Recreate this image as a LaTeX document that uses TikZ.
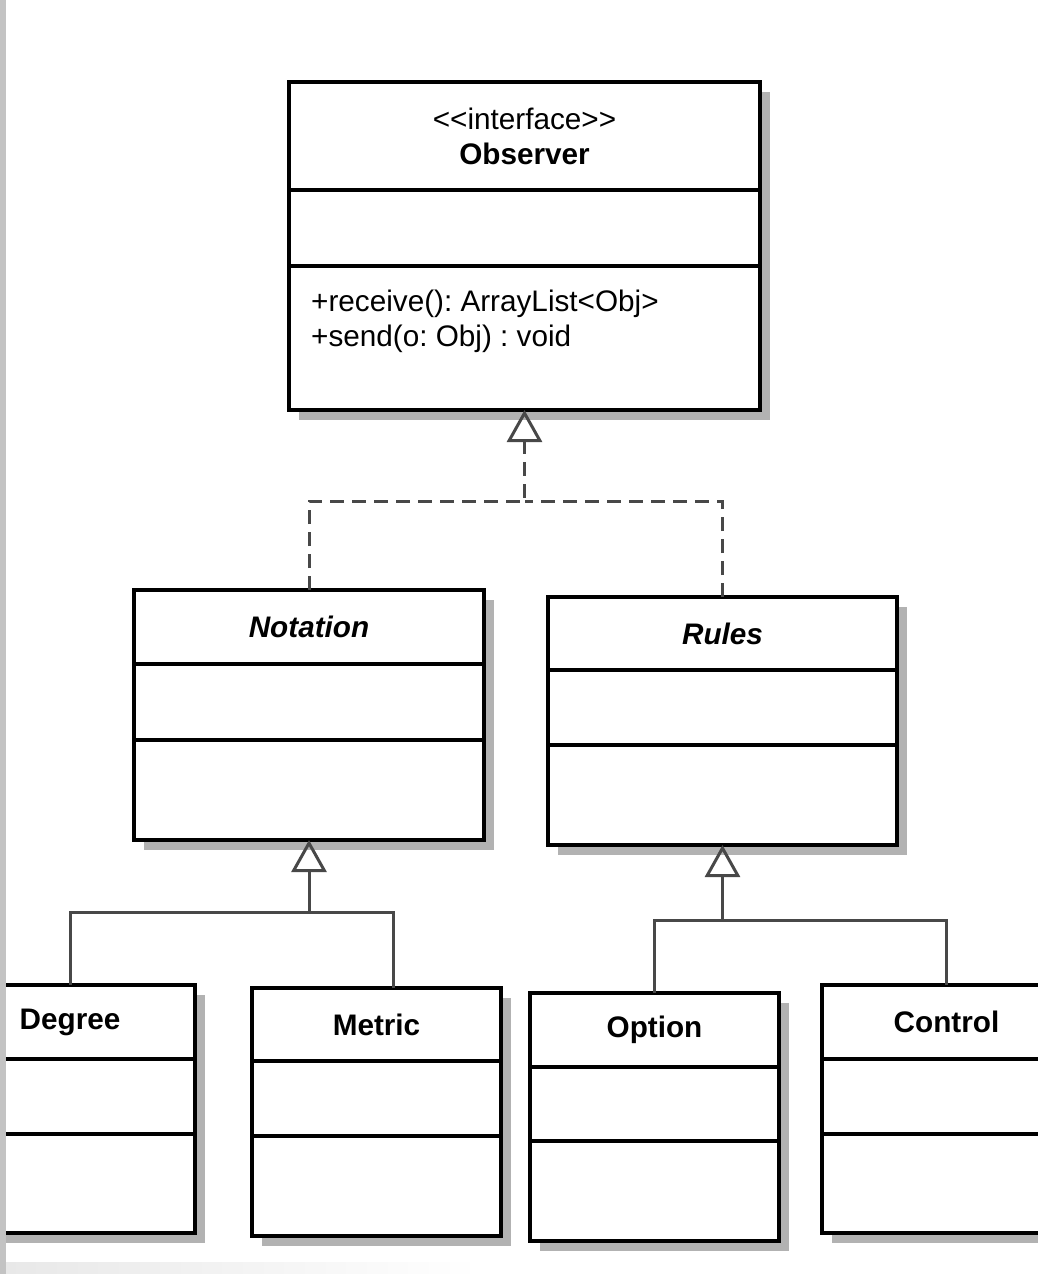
\documentclass[tikz,border=0pt]{standalone}
\usepackage{fontspec}
\setmainfont{Liberation Sans}
\usetikzlibrary{arrows.meta, positioning, shadows}
\definecolor{shadowgray}{RGB}{178, 178, 178}
\definecolor{linkgray}{RGB}{72, 72, 72}
\definecolor{framegray}{RGB}{195, 195, 195}
\frenchspacing

\begin{document}
\begin{tikzpicture}[x=1pt, y=-1pt,
        font=\fontsize{29.7pt}{35pt}\selectfont,
        part/.style={rectangle, draw=black, fill=white, line width=4pt, inner sep=0pt, outer sep=0pt, minimum width=#1,
            drop shadow={shadow xshift=10pt, shadow yshift=-10pt, fill=shadowgray, opacity=1}},
        part/.default=249pt,
        ops/.style={anchor=north west, inner sep=0pt, align=left},
        link/.style={draw=linkgray, line width=3pt},
        realize/.style={link, dash pattern=on 14pt off 8pt},
        hollow/.style={-{Triangle[open, length=32pt, width=35pt, line width=3pt]}}
    ]
        \useasboundingbox (0,0) rectangle (1038,1274);
        \clip (0,0) rectangle (1038,1274);

        % interface
        \node[part=471pt, minimum height=108pt, align=center] (obs) at (524.5,136) {{<}{<}interface{>}{>}\\\textbf{Observer}};
        \node[part=471pt, minimum height=76pt, below=0pt of obs] (obsB) {};
        \node[part=471pt, minimum height=144pt, below=0pt of obsB] (obsC) {};
        \node[ops] (obsops) at ([xshift=22pt, yshift=-24pt]obsC.north west) {+receive(): ArrayList<Obj>\\+send(o: Obj) : void};

        % abstract classes
        \node[part=350pt, minimum height=74pt] (nota) at (309,627) {\textbf{\textit{Notation}}};
        \node[part=350pt, minimum height=76pt, below=0pt of nota] (notaB) {};
        \node[part=350pt, minimum height=100pt, below=0pt of notaB] (notaC) {};

        \node[part=349pt, minimum height=73pt] (rules) at (722.5,633.5) {\textbf{\textit{Rules}}};
        \node[part=349pt, minimum height=75pt, below=0pt of rules] (rulesB) {};
        \node[part=349pt, minimum height=100pt, below=0pt of rulesB] (rulesC) {};

        % concrete classes
        \node[part, minimum height=74pt] (deg) at (70,1022) {\textbf{Degree}};
        \node[part, minimum height=75pt, below=0pt of deg] (degB) {};
        \node[part, minimum height=99pt, below=0pt of degB] (degC) {};

        \node[part, minimum height=73pt] (met) at (376.5,1024.5) {\textbf{Metric}};
        \node[part, minimum height=75pt, below=0pt of met] (metB) {};
        \node[part, minimum height=100pt, below=0pt of metB] (metC) {};

        \node[part, minimum height=74pt] (opt) at (654.5,1030) {\textbf{Option}};
        \node[part, minimum height=74pt, below=0pt of opt] (optB) {};
        \node[part, minimum height=100pt, below=0pt of optB] (optC) {};

        \node[part, minimum height=74pt] (ctrl) at (946.5,1022) {\textbf{Control}};
        \node[part, minimum height=75pt, below=0pt of ctrl] (ctrlB) {};
        \node[part, minimum height=99pt, below=0pt of ctrlB] (ctrlC) {};

        % connectors
        \coordinate (obsjoin) at (524.5,501);
        \coordinate (notajoin) at (309,912);
        \coordinate (rulesjoin) at (722.5,920);

        \draw[realize, hollow] (nota.north) |- (obsjoin) -- (obsC.south);
        \draw[realize] (rules.north) |- (obsjoin);
        \draw[link, hollow] (deg.north) |- (notajoin) -- (notaC.south);
        \draw[link] ([xshift=16.5pt]met.north) |- (notajoin);
        \draw[link, hollow] (opt.north) |- (rulesjoin) -- (rulesC.south);
        \draw[link] (ctrl.north) |- (rulesjoin);

        % screenshot edges
        \fill[framegray] (0,0) rectangle (6,1274);
        \shade[left color=gray!18, right color=white] (6,1262) rectangle (480,1274);
    \end{tikzpicture}
\end{document}
